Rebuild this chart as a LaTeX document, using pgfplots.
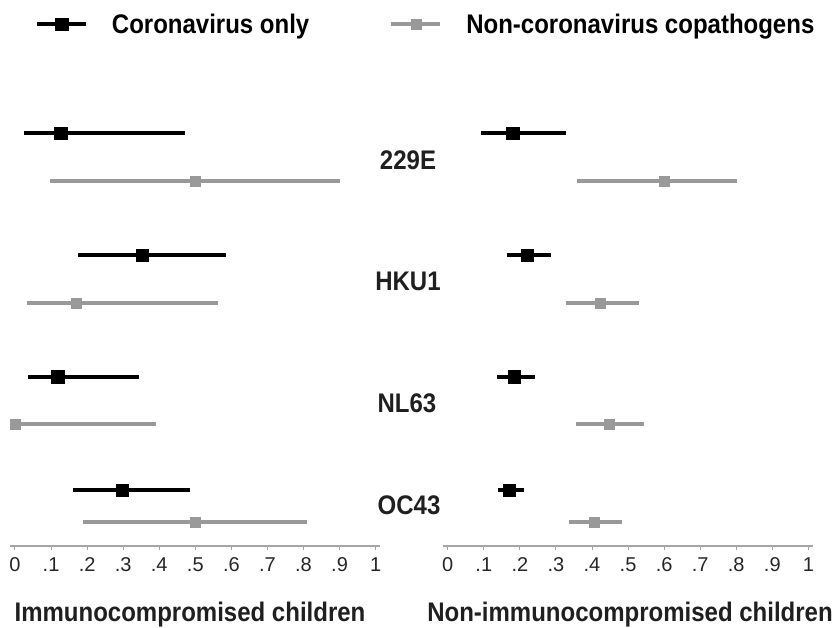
\documentclass[border=0pt]{standalone}
\usepackage{pgfplots}
\pgfplotsset{compat=1.18}
\usepackage{pgfplotstable}
\usepackage{fontspec}
\setmainfont{Liberation Sans}
\definecolor{cgray}{RGB}{153,153,153}
\definecolor{axgray}{RGB}{165,165,165}
\newcommand{\tall}[1]{\scalebox{1}[1.12]{#1}}

% x = point estimate, y = row position, lo/hi = interval
\pgfplotstableread{
x     y      lo     hi
0.127 413    0.025  0.471
0.353 291    0.175  0.586
0.118 169.3  0.036  0.344
0.297 56     0.161  0.484
}\leftblack
\pgfplotstableread{
x     y      lo     hi
0.499 365    0.097  0.902
0.169 243.3  0.034  0.562
0.001 121.7  0.000  0.391
0.499 24     0.189  0.809
}\leftgray
\pgfplotstableread{
x     y      lo     hi
0.180 413    0.092  0.328
0.220 291    0.164  0.287
0.184 169.3  0.137  0.242
0.170 56     0.138  0.212
}\rightblack
\pgfplotstableread{
x     y      lo     hi
0.600 365    0.359  0.801
0.424 243.3  0.328  0.531
0.447 121.7  0.356  0.543
0.405 24     0.335  0.482
}\rightgray

\pgfplotsset{
  forest/.style={
    scale only axis, width=370pt, height=546pt,
    xmin=-0.014, xmax=1.012, ymin=0, ymax=546,
    axis x line*=bottom, axis y line=none,
    x axis line style={-, draw=axgray, line width=1.2pt},
    xtick={0,0.1,0.2,0.3,0.4,0.5,0.6,0.7,0.8,0.9,1},
    xticklabels={0,.1,.2,.3,.4,.5,.6,.7,.8,.9,1},
    tick align=outside, major tick length=4pt,
    x tick style={draw=axgray, line width=1pt},
    x tick label style={font=\fontsize{20}{22}\selectfont, text=black!85, yshift=-4pt},
    clip=false,
  },
  ci/.style={only marks, mark=square*, mark options={solid, line width=0.4pt},
    error bars/x dir=both, error bars/x explicit, error bars/error mark=none,
    error bars/error bar style={line width=4pt}},
  legend image code/.code={
    \draw[#1, line width=4pt, mark=none] (0pt,0pt) -- (49pt,0pt);
    \draw[#1, mark repeat=2, mark phase=2] plot coordinates {(0pt,0pt) (24.5pt,0pt) (49pt,0pt)};
  },
}

\begin{document}
\begin{tikzpicture}
\useasboundingbox (0pt,0pt) rectangle (837pt,-627pt);
\begin{axis}[forest, at={(9.95pt,-546pt)}, anchor=south west,
  legend columns=2,
  legend style={at={(axis description cs:0.0676,0.956)}, anchor=west,
    draw=none, fill=none, inner sep=0pt, outer sep=0pt,
    font=\fontsize{24}{28}\selectfont\bfseries,
    nodes={inner sep=0pt},
    /tikz/every odd column/.append style={column sep=24pt},
    /tikz/every even column/.append style={column sep=80pt}},
]
\addplot[ci, black, mark size=6.3pt]
  table[x=x, y=y, x error plus expr=\thisrow{hi}-\thisrow{x}, x error minus expr=\thisrow{x}-\thisrow{lo}] {\leftblack};
\addlegendentry{\tall{Coronavirus only}}
\addplot[ci, cgray, mark size=5pt]
  table[x=x, y=y, x error plus expr=\thisrow{hi}-\thisrow{x}, x error minus expr=\thisrow{x}-\thisrow{lo}] {\leftgray};
\addlegendentry{\tall{Non-coronavirus copathogens}}
\end{axis}
\begin{axis}[forest, at={(442.7pt,-546pt)}, anchor=south west]
\addplot[ci, black, mark size=6.3pt]
  table[x=x, y=y, x error plus expr=\thisrow{hi}-\thisrow{x}, x error minus expr=\thisrow{x}-\thisrow{lo}] {\rightblack};
\addplot[ci, cgray, mark size=5pt]
  table[x=x, y=y, x error plus expr=\thisrow{hi}-\thisrow{x}, x error minus expr=\thisrow{x}-\thisrow{lo}] {\rightgray};
\end{axis}
\begin{scope}[every node/.style={font=\fontsize{24}{28}\selectfont\bfseries, text=black!88, inner sep=0pt}]
\node at (408pt,-160pt) {\tall{229E}};
\node at (408pt,-281pt) {\tall{HKU1}};
\node at (407pt,-403pt) {\tall{NL63}};
\node at (409pt,-505pt) {\tall{OC43}};
\node at (190pt,-615pt) {\tall{Immunocompromised children}};
\node at (630pt,-615pt) {\tall{Non-immunocompromised children}};
\end{scope}
\end{tikzpicture}
\end{document}
